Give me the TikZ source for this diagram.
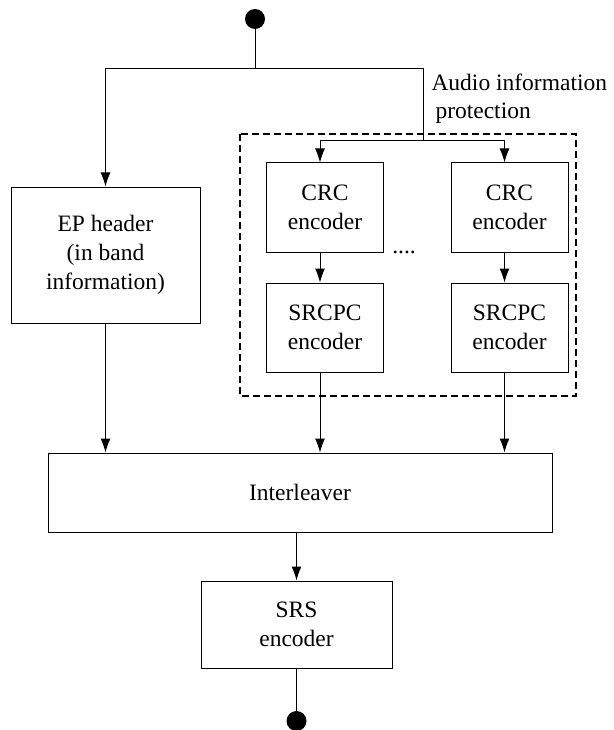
\documentclass[tikz,border=0pt]{standalone}
\usepackage{fontspec}
\setmainfont{Liberation Serif}
\usetikzlibrary{arrows.meta,positioning}

\begin{document}
\begin{tikzpicture}[x=1pt,y=-1pt,line width=1pt,
  >={Latex[length=14pt,width=10pt]},
  block/.style={draw,align=center,inner sep=0pt,
    font=\fontsize{23.5}{29}\selectfont},
  coder/.style={block,minimum width=117pt,minimum height=89pt},
  term/.style={circle,fill,inner sep=0pt,minimum size=20pt}]
\useasboundingbox (0,0) rectangle (613,730);

\node[term] (in) at (255,19) {};
\coordinate (split) at (255,69);
\coordinate (fork) at (423,141);

\node[block,minimum width=189pt,minimum height=136pt] (ep) at (105.5,255)
  {EP header\\(in band\\information)};
\node[coder] (crca) at (325,207.5) {CRC\\encoder};
\node[coder] (crcb) at (509.5,207.5) {CRC\\encoder};
\node[coder] (srcpca) at (325,327.5) {SRCPC\\encoder};
\node[coder] (srcpcb) at (509.5,327.5) {SRCPC\\encoder};
\node[font=\fontsize{23.5}{28}\selectfont] (dots) at (404,252) {....};
\node[anchor=west,align=left,inner sep=0pt,
  font=\fontsize{23.5}{28}\selectfont] (prot) at (431,99)
  {Audio information\\\hspace{4pt}protection};

\node[block,minimum width=504pt,minimum height=79pt] (il) at (300,492.5)
  {Interleaver};
\node[block,minimum width=191pt,minimum height=87pt] (srs) at (296.5,624.5)
  {SRS\\encoder};
\node[term] (out) at (296.5,721) {};

% protection area
\draw[dashed,dash pattern=on 7pt off 4pt,line width=1.3pt]
  (240,134) rectangle (576,396);

\draw (in) -- (split);
\draw[->] (split) -| (ep);
\draw (split) -| (fork);
\draw[->] (fork) -| ([xshift=-5pt]crca.north);
\draw[->] (fork) -| ([xshift=-5pt]crcb.north);
\draw[->] ([xshift=-5pt]crca.south) -- ([xshift=-5pt]srcpca.north);
\draw[->] ([xshift=-5pt]crcb.south) -- ([xshift=-5pt]srcpcb.north);
\draw[->] (ep) -- (ep |- il.north);
\draw[->] ([xshift=-5pt]srcpca.south) -- ([xshift=-5pt]srcpca.south |- il.north);
\draw[->] ([xshift=-5pt]srcpcb.south) -- ([xshift=-5pt]srcpcb.south |- il.north);
\draw[->] (il.south -| srs) -- (srs);
\draw (srs) -- (out);
\end{tikzpicture}
\end{document}
